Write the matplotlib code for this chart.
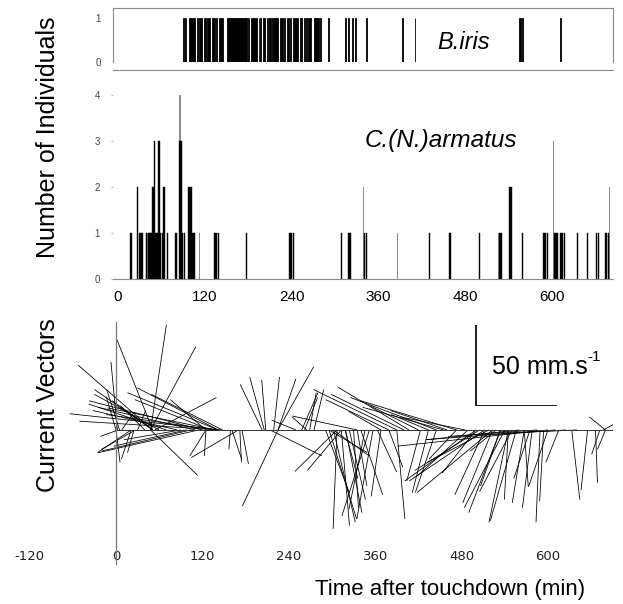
import numpy as np
import matplotlib
matplotlib.use("Agg")
import matplotlib.pyplot as plt

plt.rcParams['font.family'] = ['Liberation Sans', 'DejaVu Sans']
plt.rcParams['axes.unicode_minus'] = False

# --- B. iris presence (start, end of each sighting, min after touchdown)
iris_start = [90.3, 93.1, 98.6, 109.7, 112.4, 118.9, 123.5, 129.9, 135.5, 140.1,
              151.1, 179.7, 183.4, 194.4, 196.3, 200.9, 205.5, 208.3, 212.9, 217.5,
              223.9, 229.4, 233.1, 237.7, 242.4, 251.6, 257.1, 259.8, 262.6, 270.9,
              279.2, 290.3, 314.2, 317.9, 323.4, 328.0, 342.8, 392.5, 410.0, 553.8,
              558.4, 610.9]
iris_end = [91.2, 94.0, 106.4, 110.6, 116.1, 121.6, 127.2, 133.6, 137.3, 144.7,
            177.8, 180.6, 191.7, 195.3, 198.1, 203.6, 207.3, 211.0, 216.6, 221.1,
            227.6, 231.3, 235.9, 239.6, 248.8, 254.3, 258.0, 260.7, 266.3, 277.4,
            281.0, 291.2, 315.1, 318.8, 324.5, 328.9, 343.7, 393.4, 410.9, 556.6,
            560.2, 611.8]

# --- C. (N.) armatus counts
arm_t = [18, 26.7, 29.5, 31.8, 33.6, 39.6, 42.4, 44.2, 45.6, 47.5, 48.8, 50.2, 52.5,
         54.4, 56.2, 57.6, 59, 61.3, 63.6, 68.6, 80.2, 85.7, 87.1, 88.5, 91.7, 97.7,
         99.5, 101.8, 103.7, 106, 133.6, 135.5, 138.7, 177.8, 237.7, 239.6, 242.4,
         308.7, 319.3, 321.1, 340.5, 343.7, 430.4, 458.9, 499.4, 528, 530.3, 541.8,
         543.6, 558.8, 588.8, 591.1, 593.4, 603.1, 605.4, 607.7, 612.3, 614.6, 616.9,
         635.4, 648.7, 661.6, 663.9, 673.6, 675.4, 677.8]
arm_n = [1, 2, 1, 1, 1, 1, 1, 1, 1, 2, 2, 3, 1,
         1, 3, 3, 1, 1, 2, 1, 1, 3, 3, 1, 1, 2,
         2, 2, 1, 1, 1, 1, 1, 1, 1, 1, 1,
         1, 1, 1, 1, 1, 1, 1, 1, 1, 1, 2,
         2, 1, 1, 1, 1, 1, 1, 1, 1, 1, 1,
         1, 1, 1, 1, 1, 1, 1]
arm_grey_t = [41, 85.7, 113, 339.1, 386.6, 525.6, 601.7, 679.6]
arm_grey_n = [1, 4, 1, 2, 1, 1, 3, 2]

# --- current vectors: time (min), east (u) and north (v) components (mm/s)
cur_t = [51, 51, 48, 48, 48, 2, 0, 145, 145, 142, 142, 139, 137, 54, 115, 104, 98,
         21, 25, 125, 125, 3, 8, 148, 131, 125, 21, 27, 0, 5, 30, 40, 51, 51,
         60, 70, 85, 110, 120, 90,
         161, 172, 175, 159, 203, 206, 208, 219, 225, 225, 225, 214, 170, 258, 269,
         265, 262, 275, 250,
         390, 407, 445, 473, 379, 368, 335, 434, 420, 460, 485, 400, 455,
         307, 313, 291, 296, 302, 307, 313, 319, 324, 335, 340, 346, 352, 357, 363,
         368, 379, 302, 296, 390, 423, 434, 445, 500, 512, 489, 523, 473, 330, 318,
         512, 523, 534, 545, 556, 567, 578, 589, 594, 545, 534, 567, 500, 528, 633,
         655, 666, 672, 677, 600, 610, 560, 585, 625, 640, 540, 550, 575, 600, 615,
         680, 680, 505, 518]
cur_u = [-46, -22, 9.8, 28, 29, -4, 2.5, -93, -87, -56, -50, -67, -67, 38, -62, -55, -45,
         -6, -4, -10, -1, -11, 7, -44, -46.5, -22, -20.8, -21, -6, -8, 5, -15, -36, -25,
         -40, -48, -52, -60, -70, -35,
         6, 1, 4, -1, -13.5, -9, -2.5, 3.6, 11, 22, -22, 32, -29, 10, 4,
         -9, 8, 6, -15,
         -51.5, -44, -53, -59, -39, -20, -40, -23, -30, -35, -40, -45, -50,
         -26, -21, 14.7, 17, 13.5, -2.4, 5, 10, 10, 6, 13.5, -10, -17, -10, 12,
         -6, 8.6, 22, 23.5, 5, -8.5, -10, -13, -44, -46.5, -32, -46.6, -17, 3, 8,
         -18.4, -18.4, -19.6, -12, -16, -7.4, -6, -2.5, -2.5, -2.5, -12.3, 2.5, -21, -16, 5,
         -4, 1.2, -5, 6, -93, -80, -57, -55, -52, -45, -25, -20, -10, -12, -8,
         -5, -10, -40, -38]
cur_v = [40, 55.6, 65, 51.5, -28, 42, -20, 10, 5.4, 23, 26, 13.6, 9.5, 20, -14, -13, -10,
         -18, -14, -16, -16, -4, 10, 22, 18.7, 18.7, -14, -12, 20.6, 25, 12, 15, 25, 18,
         22, 16, 12, 14, 18, -6,
         -18, -20, -21, -12, 28, 32.6, 31, 32.7, 31.5, 39, -47, -16, -17, 23, 23,
         8, 20, 25, 6,
         25, 26.5, 20, 18, 18.7, 11.5, 8.6, 9.5, 15, 12, 8, 22, 14,
         -25.6, -25, -38.7, -55, -57, -61, -59, -51, -43, -34.6, -40, -49, -53, -55, -26,
         -41, -23, -16, -14, -55, -31.5, -38.7, -38.7, -31.5, -31.5, -29, -38.7, -18, -48, -30,
         -40, -45, -51, -57, -56, -45, -48, -57, -44, -43, -34.6, -35, -26.7, -13, -43,
         -37, -32.6, -15, 3.3, -10, -6, -6, -4, -3, -2, -48, -38, -30, -35, -20,
         -12, 8, -25, -20]

x_ticks = [0, 120, 240, 360, 480, 600]
W, H = 623, 604

fig = plt.figure(figsize=(W / 100, H / 100), dpi=100)


def box(l, t, r, b):
    return [l / W, 1 - b / H, (r - l) / W, (b - t) / H]


grey = '#8a8a8a'

# top panel: B. iris
ax1 = fig.add_axes(box(113, 8, 613, 62))
ax1.bar(iris_start, 1, width=np.array(iris_end) - np.array(iris_start), align='edge',
        color='black', edgecolor='black', linewidth=0.6)
ax1.set_xlim(-6.9, 684.2)
ax1.set_ylim(0, 1.227)
ax1.set_yticks([0, 1])
ax1.set_xticks([])
ax1.tick_params(axis='y', length=0, pad=9, labelsize=7, labelcolor='#444')
for s in ax1.spines.values():
    s.set_color(grey)
    s.set_linewidth(0.8)
ax1.spines['bottom'].set_position(('outward', 6))
ax1.text(477, 0.45, 'B.iris', ha='center', va='center', fontsize=17, style='italic')

# middle panel: C. (N.) armatus
ax2 = fig.add_axes(box(113, 85, 613, 279))
ax2.bar(arm_grey_t, arm_grey_n, width=1.4, color='#8c8c8c', linewidth=0)
ax2.bar(arm_t, arm_n, width=1.6, color='black', edgecolor='black', linewidth=0.3)
ax2.set_xlim(-6.9, 684.2)
ax2.set_ylim(0, 4.217)
ax2.set_yticks([0, 1, 2, 3, 4])
ax2.set_xticks(x_ticks)
ax2.tick_params(axis='y', length=1.5, color='#bbb', pad=8, labelsize=7, labelcolor='#444')
ax2.tick_params(axis='x', length=0, pad=8, labelsize=11)
for side in ['top', 'right', 'left']:
    ax2.spines[side].set_visible(False)
ax2.spines['bottom'].set_color(grey)
ax2.spines['bottom'].set_linewidth(0.8)
ax2.text(447, 3.0, 'C.(N.)armatus', ha='center', va='center', fontsize=17.5, style='italic')

# bottom panel: current vectors
ax3 = fig.add_axes(box(0, 318, 613, 533))
ax3.set_xlim(-161.1, 690.3)
ax3.set_ylim(-63.6, 69.1)
for s in ax3.spines.values():
    s.set_visible(False)
ax3.plot([0, 690], [0, 0], color='#333', lw=0.7)
ax3.plot([0, 0], [66.7, -83], color='#777', lw=0.9, clip_on=False)
ax3.quiver(cur_t, np.zeros(len(cur_t)), cur_u, cur_v, angles='uv', scale_units='y',
           scale=1, units='dots', width=0.8, headwidth=0, headlength=0,
           headaxislength=0, pivot='tail', color='black')
# scale bar 50 mm/s
ax3.quiver([500, 500], [15, 15], [50, 0], [0, 50], angles='uv', scale_units='y',
           scale=1, units='dots', width=1.3, headwidth=0, headlength=0,
           headaxislength=0, pivot='tail', color='#222')
lbl = ax3.text(522, 39, '50 mm.s', ha='left', va='center', fontsize=18)
ax3.annotate('-1', xy=(1.0, 0.62), xycoords=lbl, ha='left', va='bottom', fontsize=11)
ax3.set_xticks([-120] + x_ticks)
ax3.set_xticks([-120, 0, 120], minor=True)
ax3.set_yticks([])
ax3.tick_params(axis='x', which='major', length=0, pad=12, labelsize=9.5,
                labelcolor='#222')
ax3.tick_params(axis='x', which='minor', length=3, color='#999', direction='in')
for lab in ax3.get_xticklabels():
    lab.set_family('DejaVu Sans')

fig.text(48 / W, 1 - 137 / H, 'Number of Individuals', rotation=90, ha='center',
         va='center', fontsize=18)
fig.text(48 / W, 1 - 405 / H, 'Current Vectors', rotation=90, ha='center',
         va='center', fontsize=18)
fig.text(450 / W, 1 - 589 / H, 'Time after touchdown (min)', ha='center',
         va='center', fontsize=16)

fig.savefig('out.png', dpi=100)
